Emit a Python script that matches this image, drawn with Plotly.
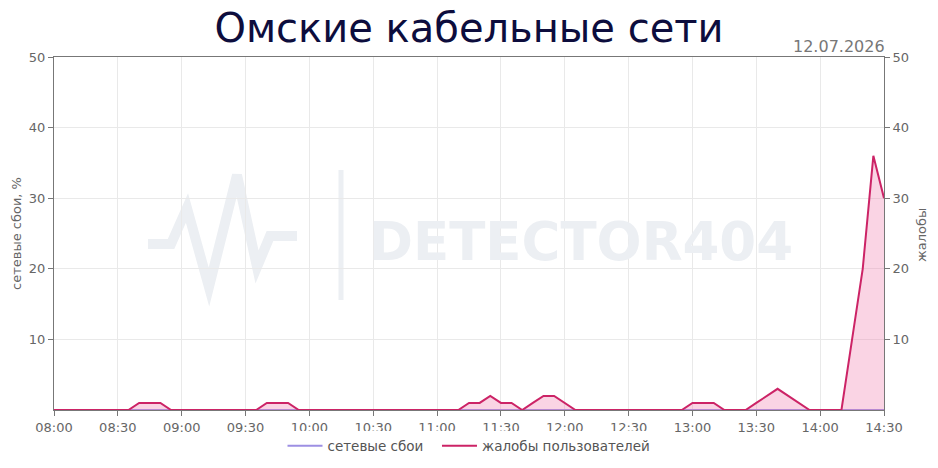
import pandas as pd
import plotly.graph_objects as go

# ---- data ----
start_time = "2026-07-12 08:00"
end_time = "2026-07-12 14:30"
times = pd.date_range(start_time, end_time, freq="5min")

outages = [
    0, 0, 0, 0, 0, 0, 0, 0, 0, 0, 0, 0, 0, 0, 0, 0, 0, 0, 0, 0,
    0, 0, 0, 0, 0, 0, 0, 0, 0, 0, 0, 0, 0, 0, 0, 0, 0, 0, 0, 0,
    0, 0, 0, 0, 0, 0, 0, 0, 0, 0, 0, 0, 0, 0, 0, 0, 0, 0, 0, 0,
    0, 0, 0, 0, 0, 0, 0, 0, 0, 0, 0, 0, 0, 0, 0, 0, 0, 0, 0,
]
complaints = [
    0, 0, 0, 0, 0, 0, 0, 0, 1, 1, 1, 0,            # 08:00-08:55
    0, 0, 0, 0, 0, 0, 0, 0, 1, 1, 1, 0,            # 09:00-09:55
    0, 0, 0, 0, 0, 0, 0, 0, 0, 0, 0, 0,            # 10:00-10:55
    0, 0, 0, 1, 1, 2, 1, 1, 0, 1, 2, 2,            # 11:00-11:55
    1, 0, 0, 0, 0, 0, 0, 0, 0, 0, 0, 0,            # 12:00-12:55
    1, 1, 1, 0, 0, 0, 1, 2, 3, 2, 1, 0,            # 13:00-13:55
    0, 0, 0, 10, 20, 36, 30,                       # 14:00-14:30
]

title_text = "Омские кабельные сети"
date_text = "12.07.2026"
left_title = "сетевые сбои, %"
right_title = "жалобы"
name_outages = "сетевые сбои"
name_complaints = "жалобы пользователей"
y_ticks = [10, 20, 30, 40, 50]
watermark = "DETECTOR404"

# ---- figure (page coords; the page body adds an 8px offset) ----
PAGE_W, PAGE_H = 938, 468
OFF = 8
W, H = PAGE_W - OFF, PAGE_H - OFF
L, R, T, B = 54, 884, 57, 410
FONT = "DejaVu Sans"
WM = "#eceff3"
RED = "#cc2366"
PURPLE = "#9d8fe3"


def px(x):
    return (x - L) / (R - L)


def py(y):
    return (B - y) / (B - T)


fig = go.Figure()

# fill area under complaints (no legend entry)
fig.add_trace(go.Scatter(
    x=times, y=complaints, mode="lines", line=dict(width=0, color=RED),
    fill="tozeroy", fillcolor="rgba(240,120,170,0.32)",
    yaxis="y2", showlegend=False, hoverinfo="skip",
))
fig.add_trace(go.Scatter(
    x=times, y=complaints, name=name_complaints, mode="lines",
    line=dict(color=RED, width=2), yaxis="y2",
))
fig.add_trace(go.Scatter(
    x=times, y=outages, name=name_outages + "\u00a0\u00a0", mode="lines",
    line=dict(color=PURPLE, width=2), yaxis="y",
))

# watermark pulse logo
pulse = [(148, 244), (171, 244), (187, 208), (209, 287), (237, 175),
         (257, 267), (270, 236), (297, 236)]
path = "M " + " L ".join(f"{px(x):.4f},{py(y):.4f}" for x, y in pulse)
fig.add_shape(type="path", path=path, xref="paper", yref="paper",
              line=dict(color=WM, width=10), layer="below")
fig.add_shape(type="line", xref="paper", yref="paper",
              x0=px(341), x1=px(341), y0=py(170), y1=py(300),
              line=dict(color=WM, width=5), layer="below")

annotations = [
    dict(text=watermark, x=px(581), y=py(241), xref="paper", yref="paper",
         showarrow=False, font=dict(family=FONT, size=53, color=WM, weight="bold"),
         xanchor="center", yanchor="middle"),
    dict(text=date_text, x=1.0, y=py(47), xref="paper", yref="paper",
         showarrow=False, font=dict(family=FONT, size=16, color="#777777"),
         xanchor="right", yanchor="middle", xshift=3),
    dict(text=left_title, x=px(16), y=py(234), xref="paper", yref="paper",
         showarrow=False, textangle=-90,
         font=dict(family=FONT, size=13, color="#666666"),
         xanchor="center", yanchor="middle"),
    dict(text=right_title, x=px(921), y=py(235), xref="paper", yref="paper",
         showarrow=False, textangle=-90,
         font=dict(family=FONT, size=13, color="#666666"),
         xanchor="center", yanchor="middle"),
]

axis_common = dict(
    range=[0, 50], tickvals=y_ticks, showline=True, linecolor="#777777",
    linewidth=1, ticks="outside", ticklen=5, tickcolor="#777777",
    tickfont=dict(family=FONT, size=13, color="#666666"),
    zeroline=False, fixedrange=True, automargin=False,
)

fig.update_layout(
    width=W, height=H,
    margin=dict(l=L - OFF, r=PAGE_W - R, t=T - OFF, b=PAGE_H - B,
                autoexpand=False),
    paper_bgcolor="white", plot_bgcolor="white",
    font=dict(family=FONT, color="#666666"),
    title=dict(text=title_text, x=0.5, xanchor="center", y=1 - (28 - OFF) / H,
               yanchor="middle", xref="paper",
               font=dict(family=FONT, size=40, color="#0d0d3d")),
    xaxis=dict(
        type="date", range=[start_time, end_time], dtick=30 * 60 * 1000,
        tick0=start_time, tickformat="%H:%M", showgrid=True,
        gridcolor="#e9e9e9", showline=True, mirror=True, linecolor="#777777",
        ticks="outside", ticklen=5, tickcolor="#777777",
        tickfont=dict(family=FONT, size=13, color="#666666"),
        zeroline=False, automargin=False,
    ),
    yaxis=dict(side="left", showgrid=True, gridcolor="#e9e9e9", **axis_common),
    yaxis2=dict(side="right", overlaying="y", showgrid=False, **axis_common),
    legend=dict(orientation="h", x=0.5, xanchor="center", y=py(446),
                yanchor="middle", traceorder="reversed", itemwidth=35,
                font=dict(family=FONT, size=13.5, color="#555555")),
    annotations=annotations,
    showlegend=True,
)

fig.write_html("out.html")
